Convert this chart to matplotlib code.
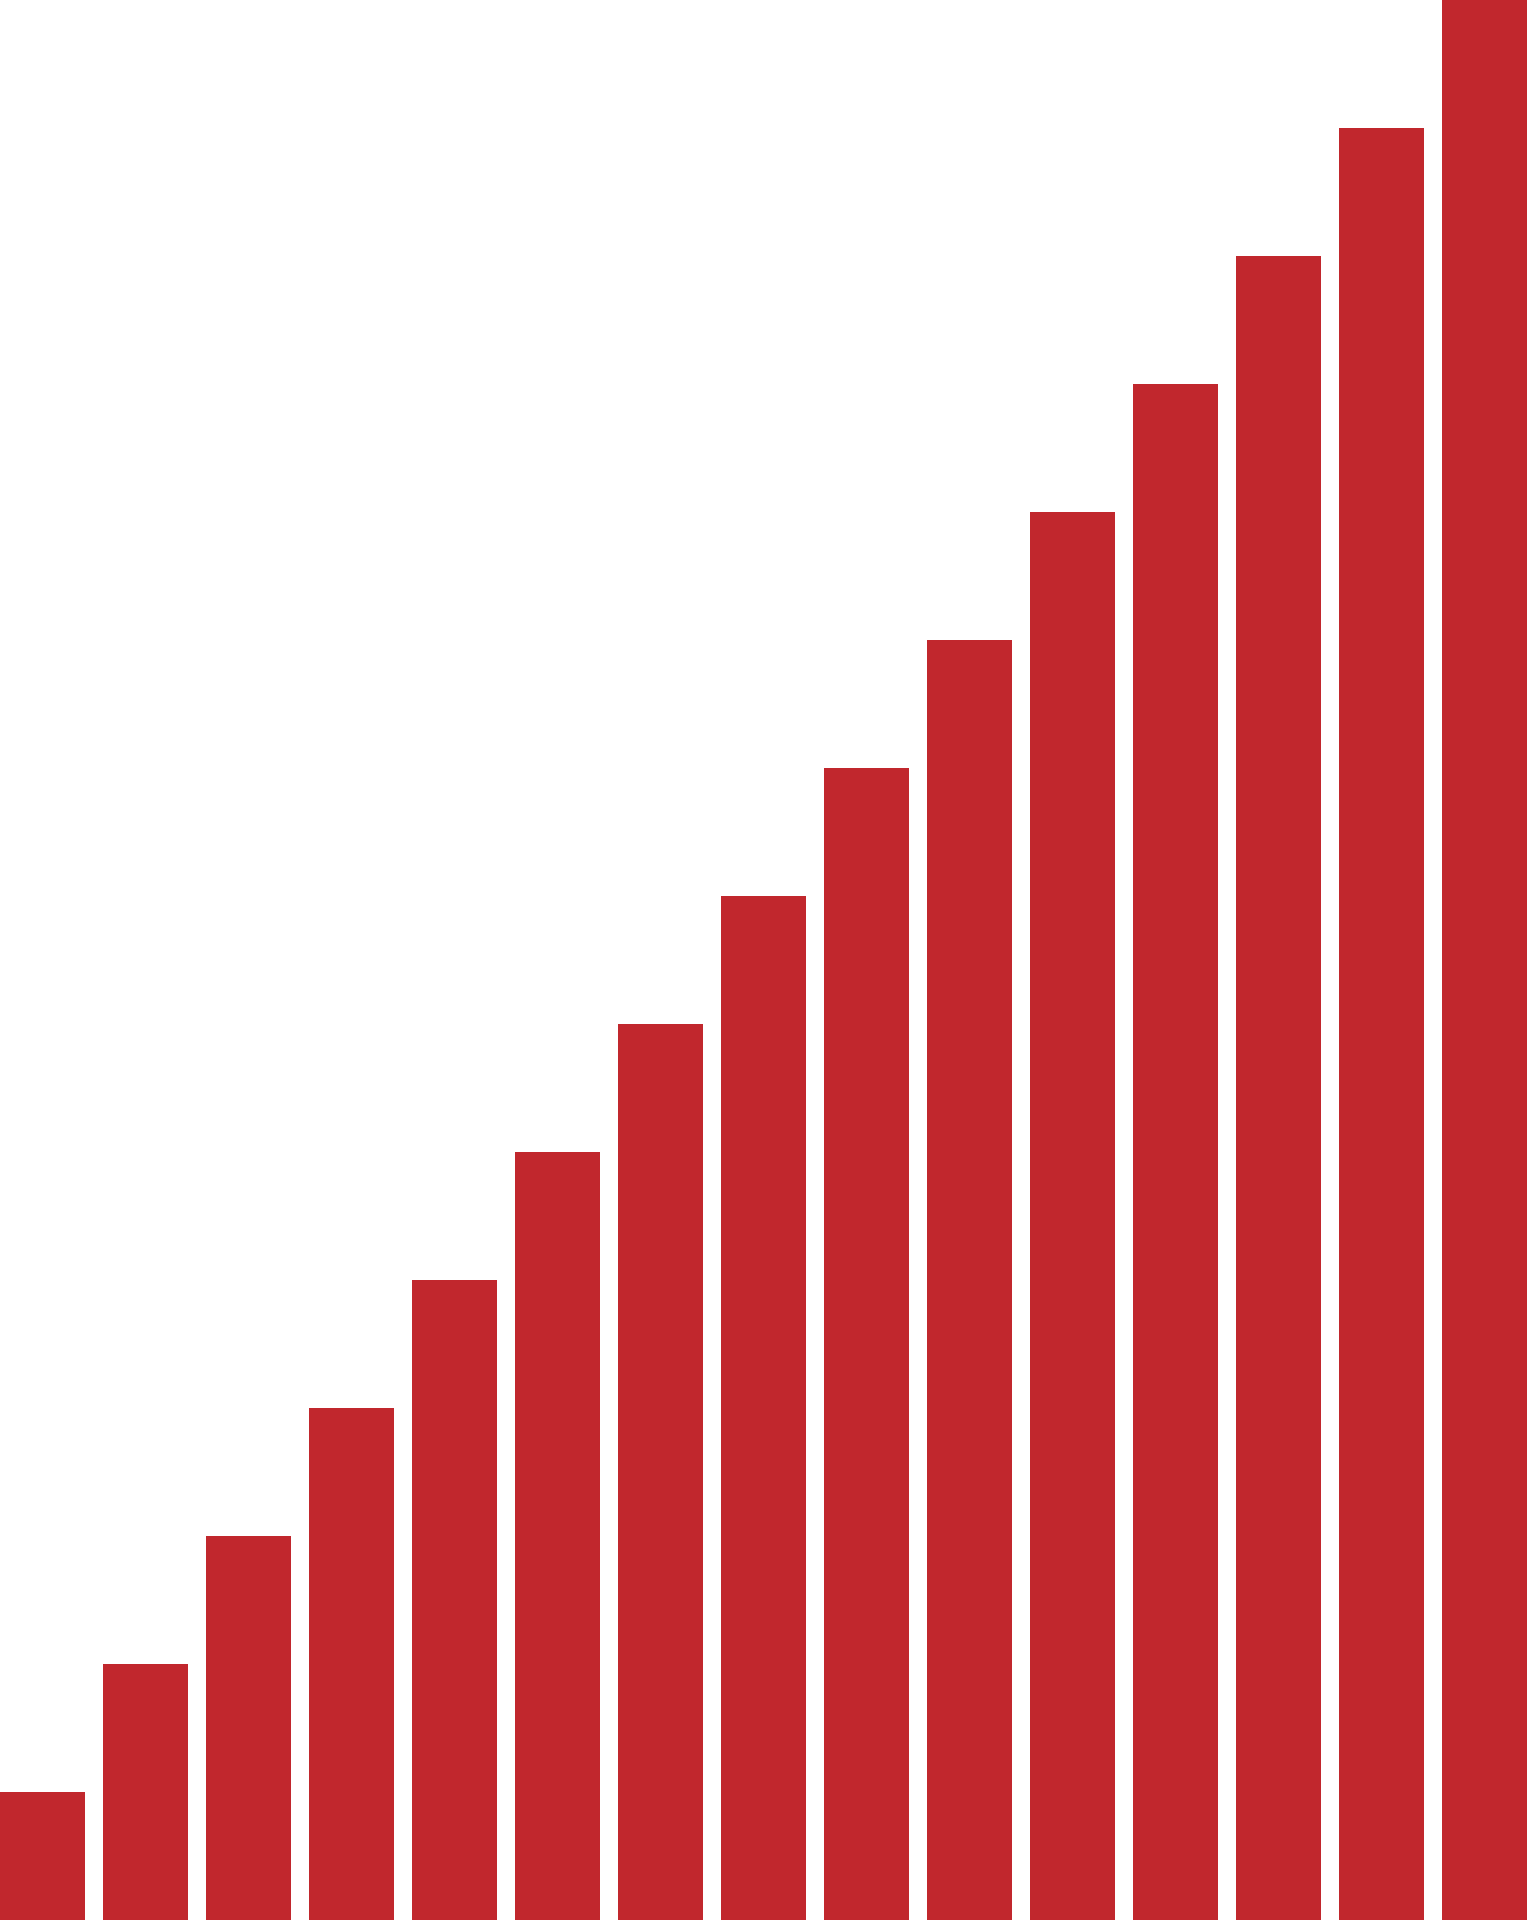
import matplotlib
matplotlib.use("Agg")
import matplotlib.pyplot as plt

# alturas de las barras (escala lineal, 15 categorias)
categorias = list(range(15))
valores = [1, 2, 3, 4, 5, 6, 7, 8, 9, 10, 11, 12, 13, 14, 15]

ancho = 0.825
color_barra = '#C1272D'

fig = plt.figure(figsize=(15.27, 19.20), dpi=100)
ax = fig.add_axes([0, 0, 1, 1])
ax.bar(categorias, valores, width=ancho, color=color_barra, linewidth=0)

ax.set_xlim(-ancho / 2, categorias[-1] + ancho / 2)
ax.set_ylim(0, max(valores))
ax.axis('off')

fig.savefig('out.png', dpi=100, facecolor='white')
